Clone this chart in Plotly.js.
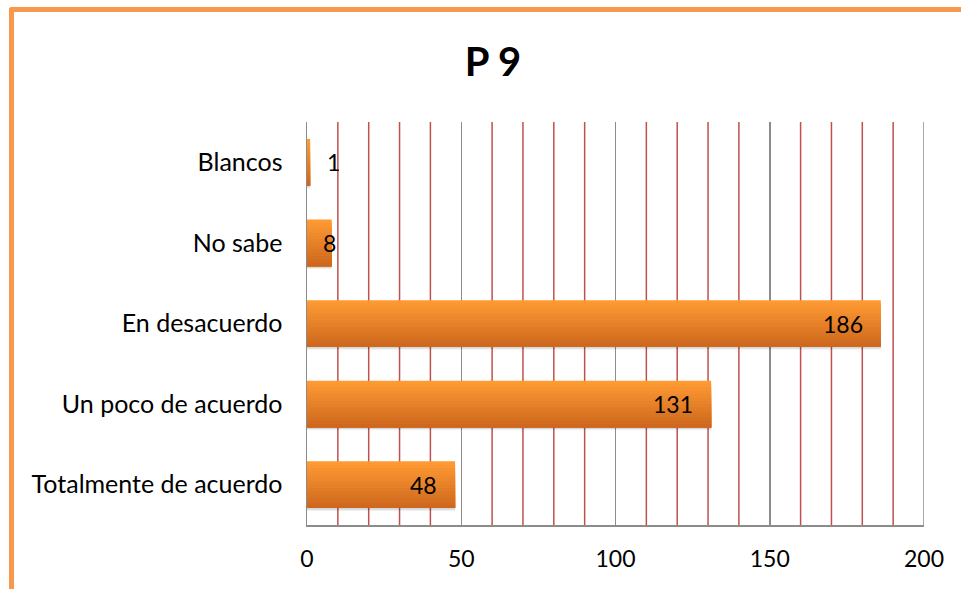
<!DOCTYPE html>
<html>
<head>
<meta charset="utf-8">
<script src="https://cdn.plot.ly/plotly-3.0.1.min.js"></script>
<style>
  html, body { margin: 0; padding: 0; background: #ffffff; overflow: hidden; }
  #chart { width: 961px; height: 589px; position: relative; }
  #frame {
    position: absolute; left: 9px; top: 7px; width: 1100px; height: 700px;
    border-left: 5px solid #F9974A; border-top: 5px solid #F9974A;
    border-top-left-radius: 3px; pointer-events: none; box-sizing: border-box;
  }
</style>
</head>
<body>
<div id="chart"></div>
<div id="frame"></div>
<script>
// Responses to question P 9 (bottom to top on the chart)
const categories = ["Totalmente de acuerdo", "Un poco de acuerdo", "En desacuerdo", "No sabe", "Blancos"];
const counts = [48, 131, 186, 8, 1];
const xTickValues = [0, 50, 100, 150, 200];

const FONT = "Lato, 'Open Sans', sans-serif";
const BAR_W = 0.58;      // bar thickness in category units
const BANDS = 14;        // slices used for the vertical gradient
const TOP = [255, 154, 51];
const BOTTOM = [206, 104, 30];
const GRID_STEP = 10;    // red minor grid spacing

function mix(a, b, t) {
  return "rgb(" + a.map((v, i) => Math.round(v + (b[i] - v) * t)).join(",") + ")";
}

const traces = [];

// soft shadow under each bar
[[0.035, "rgba(0,0,0,0.06)"], [0.02, "rgba(0,0,0,0.10)"]].forEach(([h, c]) => {
  traces.push({
    type: "bar", orientation: "h", y: categories, x: counts,
    width: h, offset: -BAR_W / 2 - h, marker: { color: c, line: { width: 0 } },
    hoverinfo: "skip", showlegend: false
  });
});

// gradient: full bar in the bright colour, then ever shorter darker layers from the bottom
for (let k = 0; k < BANDS; k++) {
  const t = k / (BANDS - 1);
  traces.push({
    type: "bar", orientation: "h", y: categories, x: counts,
    width: BAR_W * (BANDS - k) / BANDS,
    offset: -BAR_W / 2,
    marker: { color: mix(TOP, BOTTOM, t), line: { width: 0 } },
    hoverinfo: "skip", showlegend: false
  });
}

// value labels at the end of each bar
const labels = categories.map((c, i) => {
  const v = counts[i];
  let anchor = "right", shift = -16;          // inside, near the bar end
  if (v < 5) { anchor = "left"; shift = 15; } // beyond a very short bar
  else if (v < 20) { anchor = "center"; shift = -2; }
  return {
    x: v, y: c, xref: "x", yref: "y", text: String(v), showarrow: false,
    xanchor: anchor, xshift: shift, yanchor: "middle",
    font: { family: FONT, size: 23, color: "#000000" }
  };
});

// red lines every 10 between the grey major lines, plus the grey edge line
const xMax = xTickValues[xTickValues.length - 1];
const gridShapes = [];
for (let v = GRID_STEP; v < xMax; v += GRID_STEP) {
  if (xTickValues.includes(v)) continue;
  gridShapes.push({
    type: "line", xref: "x", yref: "paper", x0: v, x1: v, y0: 0, y1: 1,
    line: { color: "#c0504d", width: 1.5 }, layer: "below"
  });
}
gridShapes.push({
  type: "line", xref: "x", yref: "paper", x0: xMax, x1: xMax, y0: 0, y1: 1,
  line: { color: "#8c8c8c", width: 1.5 }, layer: "below"
});

const layout = {
  width: 961, height: 589,
  margin: { l: 307, r: 37, t: 122, b: 64, pad: 0 },
  paper_bgcolor: "#ffffff", plot_bgcolor: "#ffffff",
  barmode: "overlay",
  showlegend: false,
  shapes: gridShapes,
  annotations: labels,
  title: {
    text: "<b>P 9</b>",
    font: { family: FONT, size: 40, color: "#000000" },
    xref: "container", x: 0.513, xanchor: "center",
    yref: "container", y: 0.895, yanchor: "middle"
  },
  xaxis: {
    range: [0, xMax], tickmode: "array", tickvals: xTickValues,
    ticktext: xTickValues.map(String),
    showgrid: true, gridcolor: "#8c8c8c", gridwidth: 1.5,
    showline: true, linecolor: "#8c8c8c", linewidth: 1.5,
    zeroline: false, ticks: "", ticklabelstandoff: 13,
    tickfont: { family: FONT, size: 23, color: "#000000" },
    fixedrange: true
  },
  yaxis: {
    type: "category", categoryorder: "array", categoryarray: categories,
    showgrid: false, showline: true, linecolor: "#8c8c8c", linewidth: 1.5,
    ticks: "", ticklabelstandoff: 18,
    tickfont: { family: FONT, size: 25, color: "#000000" },
    fixedrange: true
  }
};

Plotly.newPlot("chart", traces, layout, { staticPlot: true, displayModeBar: false });
</script>
</body>
</html>
